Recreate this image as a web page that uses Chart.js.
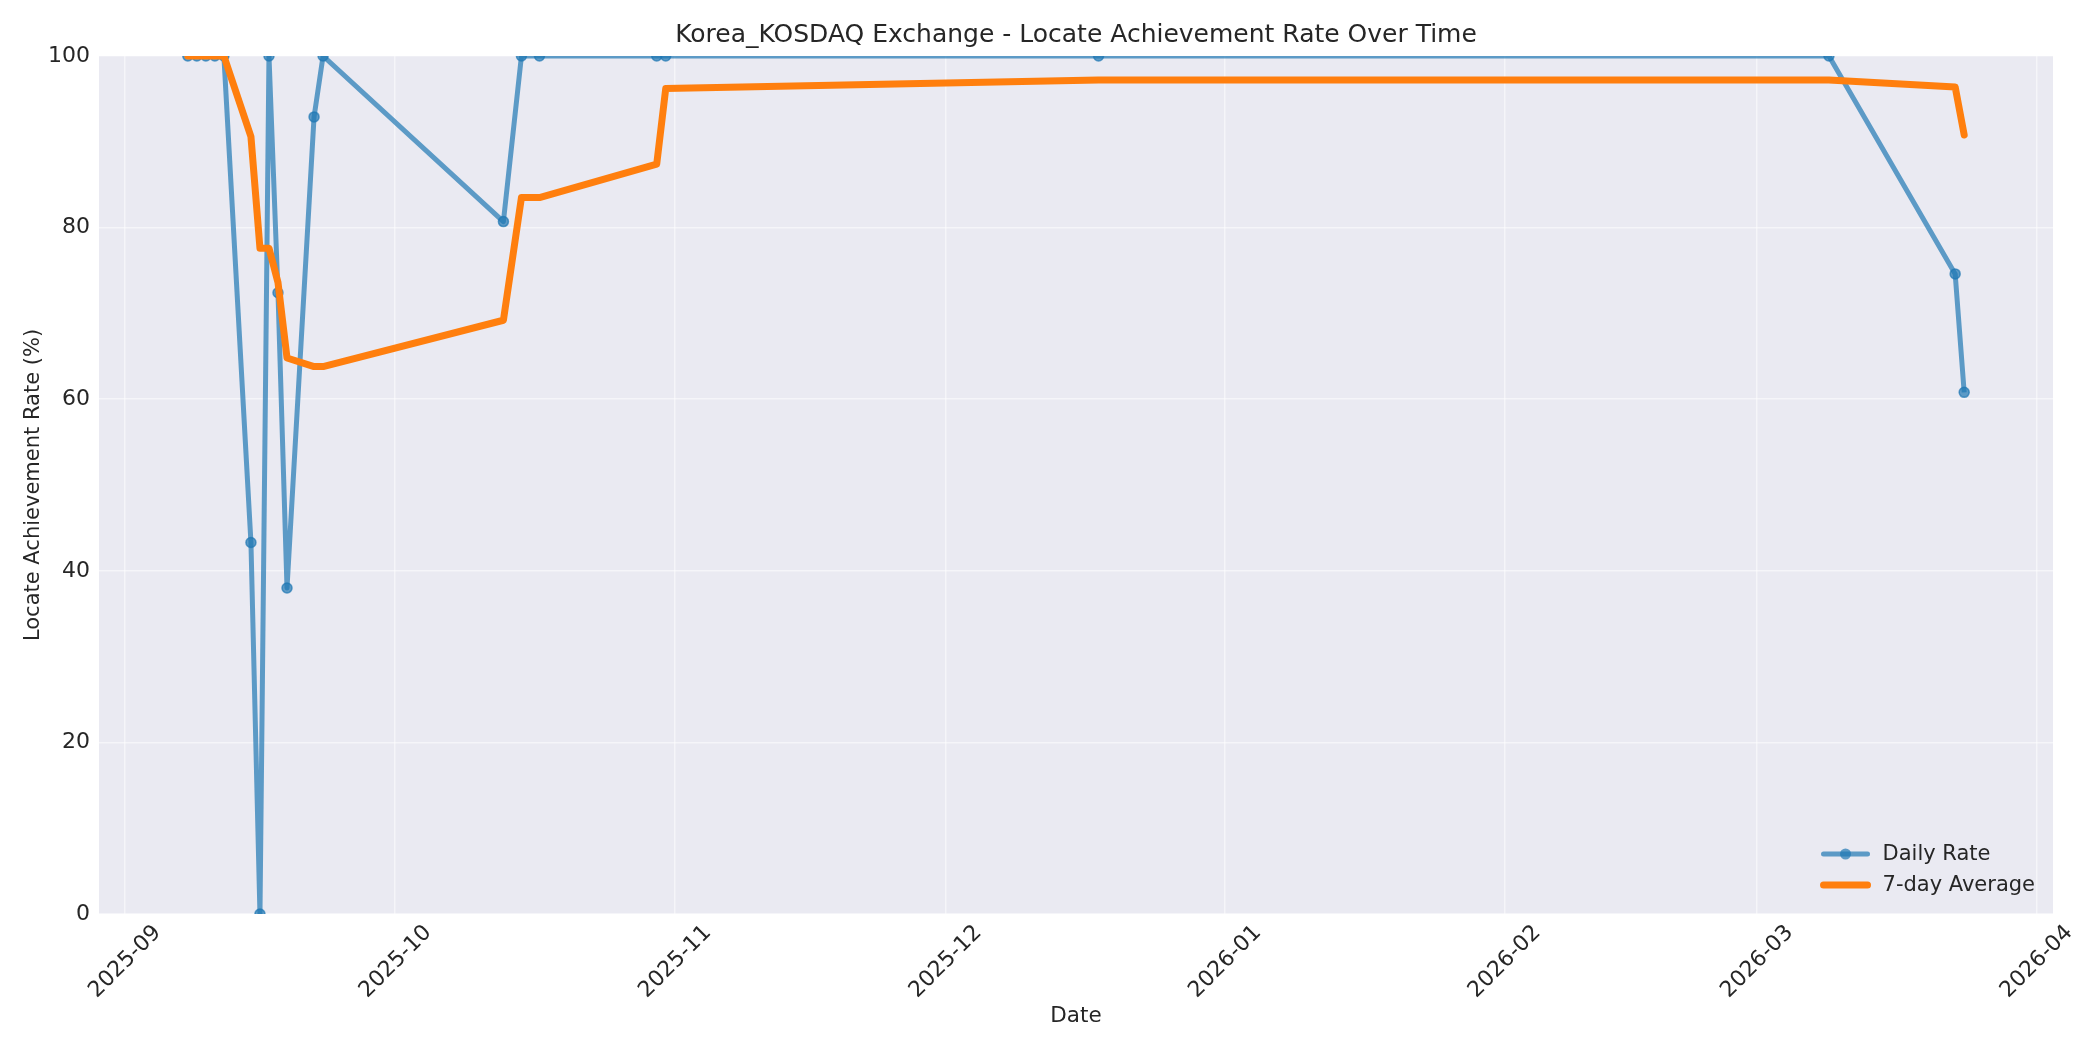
<!DOCTYPE html>
<html>
<head>
<meta charset="utf-8">
<script src="https://cdn.jsdelivr.net/npm/chart.js@4.4.1/dist/chart.umd.min.js"></script>
<style>
  html, body { margin: 0; padding: 0; background: #fff; }
  #wrap { width: 2100px; height: 1050px; position: relative; }
</style>
</head>
<body>
<div id="wrap"><canvas id="chart"></canvas></div>
<script>
// Dates of each observation
const dates = [
    '2025-09-08', '2025-09-09', '2025-09-10', '2025-09-11', '2025-09-12',
    '2025-09-15', '2025-09-16', '2025-09-17', '2025-09-18', '2025-09-19',
    '2025-09-22', '2025-09-23', '2025-10-13', '2025-10-15', '2025-10-17',
    '2025-10-30', '2025-10-31', '2025-12-18', '2026-03-09', '2026-03-23',
    '2026-03-24'
];

// Daily locate achievement rate (%)
const dailyRate = [
    100, 100, 100, 100, 100,
    43.3, 0, 100, 72.4, 38.0,
    92.9, 100, 80.7, 100, 100,
    100, 100, 100, 100, 74.6,
    60.8
];

// 7-day average (%)
const weekAverage = [
    100, 100, 100, 100, 100,
    90.6, 77.6, 77.6, 73.6, 64.8,
    63.8, 63.8, 69.2, 83.5, 83.5,
    87.4, 96.2, 97.2, 97.2, 96.4,
    90.8
];

// Month tick labels on the x axis
const monthTicks = ['2025-09', '2025-10', '2025-11', '2025-12', '2026-01', '2026-02', '2026-03', '2026-04'];

const yTicks = [0, 20, 40, 60, 80, 100];

const chartTitle = 'Korea_KOSDAQ Exchange - Locate Achievement Rate Over Time';

const TEXT = '#262626';
const FONT = "'DejaVu Sans', sans-serif";

function toMs(s) {
    const p = s.split('-').map(Number);
    return Date.UTC(p[0], p[1] - 1, p[2] || 1);
}

const xs = dates.map(toMs);
const tickMs = monthTicks.map(toMs);
const span = xs[xs.length - 1] - xs[0];

// Plot background like seaborn darkgrid
const bgPlugin = {
    id: 'plotBg',
    beforeDraw(chart) {
        const a = chart.chartArea;
        const ctx = chart.ctx;
        ctx.save();
        ctx.fillStyle = '#EAEAF2';
        ctx.fillRect(a.left, a.top, a.right - a.left, a.bottom - a.top);
        ctx.restore();
    }
};

// Title centred over the plot area (as matplotlib does)
const axesTitle = {
    id: 'axesTitle',
    afterDraw(chart) {
        const a = chart.chartArea;
        const ctx = chart.ctx;
        ctx.save();
        ctx.font = '25px ' + FONT;
        ctx.fillStyle = TEXT;
        ctx.textAlign = 'center';
        ctx.textBaseline = 'middle';
        ctx.fillText(chartTitle, (a.left + a.right) / 2, 35);
        ctx.restore();
    }
};

// Legend drawn inside the plot, lower right
const insideLegend = {
    id: 'insideLegend',
    afterDraw(chart) {
        const a = chart.chartArea;
        const ctx = chart.ctx;
        const sets = chart.data.datasets;
        ctx.save();
        ctx.font = '21px ' + FONT;
        ctx.textBaseline = 'middle';
        ctx.textAlign = 'left';
        let maxW = 0;
        sets.forEach(ds => { maxW = Math.max(maxW, ctx.measureText(ds.label).width); });
        const textX = a.right - 18 - maxW;
        const lx0 = textX - 59, lx1 = textX - 15;
        sets.forEach((ds, i) => {
            const y = a.bottom - 60 + i * 31;
            ctx.strokeStyle = ds.borderColor;
            ctx.lineWidth = ds.borderWidth;
            ctx.lineCap = 'round';
            ctx.beginPath();
            ctx.moveTo(lx0, y);
            ctx.lineTo(lx1, y);
            ctx.stroke();
            if (ds.pointRadius > 0) {
                ctx.fillStyle = ds.pointBackgroundColor;
                ctx.beginPath();
                ctx.arc((lx0 + lx1) / 2, y, ds.pointRadius + 0.5, 0, Math.PI * 2);
                ctx.fill();
            }
            ctx.fillStyle = TEXT;
            ctx.fillText(ds.label, textX, y + 1);
        });
        ctx.restore();
    }
};

new Chart(document.getElementById('chart'), {
    type: 'line',
    data: {
        datasets: [
            {
                label: 'Daily Rate',
                data: xs.map((x, i) => ({ x: x, y: dailyRate[i] })),
                borderColor: 'rgba(31,119,180,0.7)',
                borderWidth: 5,
                pointRadius: 5,
                pointBorderWidth: 1.5,
                pointBackgroundColor: 'rgba(31,119,180,0.7)',
                pointBorderColor: 'rgba(31,119,180,0.7)',
                borderJoinStyle: 'round',
                tension: 0,
                clip: 0,
                order: 2
            },
            {
                label: '7-day Average',
                data: xs.map((x, i) => ({ x: x, y: weekAverage[i] })),
                borderColor: '#ff7f0e',
                borderWidth: 7,
                pointRadius: 0,
                borderCapStyle: 'round',
                borderJoinStyle: 'round',
                tension: 0,
                clip: 0,
                order: 1
            }
        ]
    },
    options: {
        responsive: true,
        maintainAspectRatio: false,
        animation: false,
        devicePixelRatio: 1,
        layout: { padding: { left: 0, right: 47, top: 56, bottom: 0 } },
        plugins: {
            legend: { display: false },
            tooltip: { enabled: false },
            title: { display: false }
        },
        scales: {
            x: {
                type: 'linear',
                min: xs[0] - 0.05 * span,
                max: xs[xs.length - 1] + 0.05 * span,
                afterBuildTicks(axis) {
                    axis.ticks = tickMs.map(v => ({ value: v }));
                },
                afterFit(axis) { axis.height = 136; },
                ticks: {
                    autoSkip: false,
                    minRotation: 45,
                    maxRotation: 45,
                    labelOffset: 33,
                    padding: 6,
                    color: TEXT,
                    font: { family: FONT, size: 22 },
                    callback(v) {
                        const i = tickMs.indexOf(v);
                        return i >= 0 ? monthTicks[i] : '';
                    }
                },
                grid: { color: 'rgba(255,255,255,0.5)', lineWidth: 1.5, drawTicks: false },
                border: { display: false },
                title: {
                    display: true,
                    text: 'Date',
                    color: TEXT,
                    font: { family: FONT, size: 21.5, lineHeight: 1.2 },
                    padding: { top: 0, bottom: 21 }
                }
            },
            y: {
                min: 0,
                max: 100,
                afterBuildTicks(axis) {
                    axis.ticks = yTicks.map(v => ({ value: v }));
                },
                afterFit(axis) { axis.width = 99; },
                ticks: {
                    padding: 9,
                    color: TEXT,
                    font: { family: FONT, size: 22 }
                },
                grid: { color: 'rgba(255,255,255,0.5)', lineWidth: 1.5, drawTicks: false },
                border: { display: false },
                title: {
                    display: true,
                    text: 'Locate Achievement Rate (%)',
                    color: TEXT,
                    font: { family: FONT, size: 21, lineHeight: 1.2 },
                    padding: { top: 21, bottom: 0 }
                }
            }
        }
    },
    plugins: [bgPlugin, axesTitle, insideLegend]
});
</script>
</body>
</html>
